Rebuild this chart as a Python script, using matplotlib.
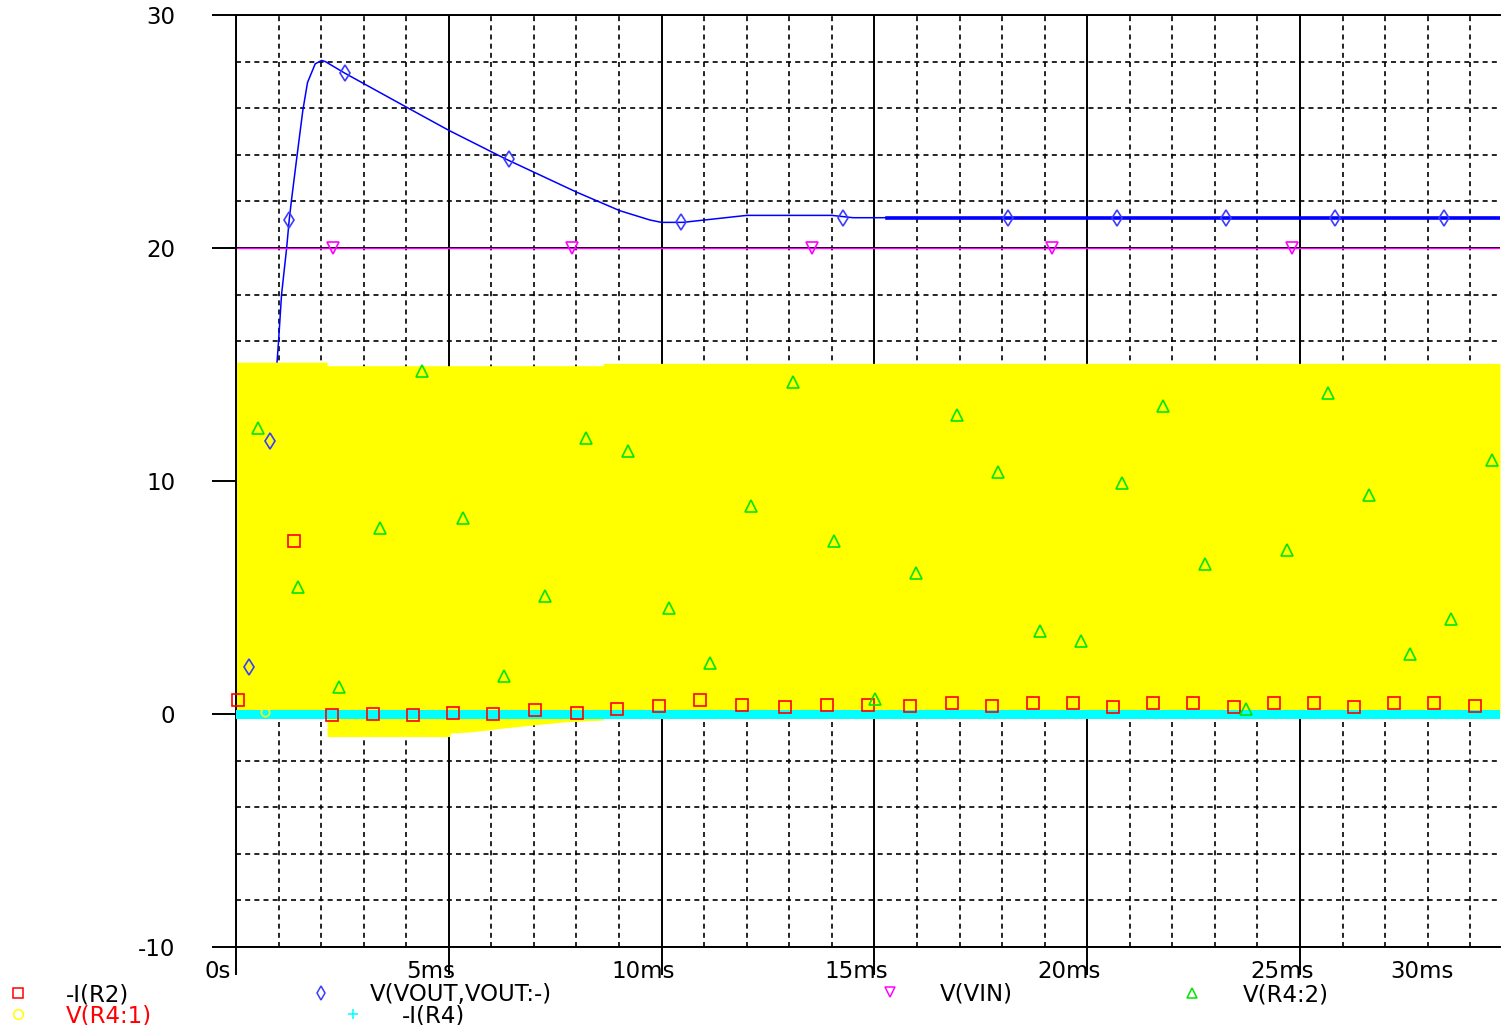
import matplotlib
matplotlib.use("Agg")
import matplotlib.pyplot as plt
import matplotlib.lines as mlines
from matplotlib.ticker import MultipleLocator
from matplotlib.transforms import ScaledTranslation

# ---- data (time in ms) ----
# V(VOUT,VOUT:-) trace
vout_t = [0.0, 0.31, 0.80, 0.96, 1.00, 1.07, 1.19, 1.25, 1.30, 1.43, 1.57, 1.68, 1.86, 2.01,
          2.10, 2.56, 4.05, 5.00, 6.36, 8.00, 9.02, 9.73, 10.0, 10.5, 11.0, 12.0, 14.0, 14.5,
          15.3, 29.7]
vout_v = [0.0, 2.0, 11.7, 15.0, 16.0, 18.0, 20.0, 21.2, 22.0, 23.9, 25.9, 27.1, 27.9, 28.05,
          28.0, 27.5, 26.0, 25.05, 23.8, 22.4, 21.6, 21.2, 21.1, 21.1, 21.2, 21.4, 21.4, 21.3,
          21.3, 21.3]
vout_mk_t = [0.31, 0.80, 1.25, 2.56, 6.41, 10.46, 14.26, 18.14, 20.70, 23.26, 25.82, 28.38]
vout_mk_v = [2.0, 11.7, 21.2, 27.5, 23.8, 21.1, 21.3, 21.3, 21.3, 21.3, 21.3, 21.3]

# V(VIN)
vin_t = [0.0, 29.7]
vin_v = [20.0, 20.0]
vin_mk_t = [2.28, 7.89, 13.53, 19.17, 24.81]
vin_mk_v = [20.0, 20.0, 20.0, 20.0, 20.0]

# V(R4:1) switching band envelope
r41_t = [0.0, 2.14, 2.14, 5.03, 5.03, 5.57, 6.20, 6.98, 7.77, 8.63, 8.63, 29.7]
r41_lo = [0.0, 0.0, -0.97, -0.97, -0.82, -0.76, -0.62, -0.47, -0.33, -0.26, 0.0, 0.0]
r41_hi = [15.1, 15.1, 14.95, 14.95, 14.95, 14.95, 14.95, 14.95, 14.95, 14.95, 15.05, 15.05]
r41_mk_t = [0.68]
r41_mk_v = [0.1]

# -I(R4) band
i4_t = [0.0, 29.7]
i4_lo = [-0.2, -0.2]
i4_hi = [0.18, 0.18]

# -I(R2) markers
ir2_t = [0.05, 1.36, 2.26, 3.22, 4.16, 5.10, 6.04, 7.03, 8.01, 8.95, 9.94, 10.90, 11.89,
         12.90, 13.89, 14.85, 15.84, 16.82, 17.76, 18.73, 19.67, 20.61, 21.55, 22.49, 23.45,
         24.39, 25.33, 26.27, 27.21, 28.15, 29.11]
ir2_v = [0.60, 7.42, -0.04, 0.0, -0.04, 0.04, 0.0, 0.17, 0.04, 0.21, 0.34, 0.60, 0.39,
         0.30, 0.39, 0.39, 0.34, 0.47, 0.34, 0.47, 0.47, 0.30, 0.47, 0.47, 0.30,
         0.47, 0.47, 0.30, 0.47, 0.47, 0.34]

# V(R4:2) markers
r42_t = [0.52, 1.46, 2.42, 3.38, 4.37, 5.33, 6.30, 7.26, 8.22, 9.21, 10.17, 11.14, 12.10,
         13.09, 14.05, 15.01, 15.98, 16.94, 17.91, 18.89, 19.85, 20.82, 21.78, 22.77, 23.73,
         24.69, 25.66, 26.62, 27.58, 28.55, 29.51]
r42_v = [12.27, 5.45, 1.16, 7.98, 14.72, 8.41, 1.63, 5.06, 11.85, 11.29, 4.55, 2.19, 8.93,
         14.25, 7.42, 0.64, 6.05, 12.83, 10.39, 3.56, 3.13, 9.91, 13.22, 6.44, 0.21,
         7.04, 13.78, 9.40, 2.58, 4.08, 10.90]

x_ticks = [0, 5, 10, 15, 20, 25]
x_labels = ["0s", "5ms", "10ms", "15ms", "20ms", "25ms"]
y_ticks = [-10, 0, 10, 20, 30]
y_labels = ["-10", "0", "10", "20", "30"]

RED = "#ff0000"
BLUE = "#0000ff"
BLUE_MK = "#3c3cff"
MAGENTA = "#ff00ff"
GREEN = "#00e600"
YELLOW = "#ffff00"
CYAN = "#00ffff"

W, H = 1502, 1025
plt.rcParams["font.family"] = ["DejaVu Sans"]
FS = 16.5

fig = plt.figure(figsize=(W / 100, H / 100), dpi=100)
ax = fig.add_axes([236 / W, 1 - 947 / H, (1500 - 236) / W, (947 - 15) / H])
ax.set_xlim(0, 29.7)
ax.set_ylim(-10, 30)

# grid
ax.set_axisbelow(True)
ax.xaxis.set_minor_locator(MultipleLocator(1))
ax.yaxis.set_minor_locator(MultipleLocator(2))
ax.grid(True, which="major", color="black", linewidth=1.4, linestyle="-")
ax.grid(True, which="minor", color="black", linewidth=1.2, linestyle=(0, (3, 2.5)))

for s in ["left", "bottom", "top"]:
    ax.spines[s].set_linewidth(1.4)
ax.spines["right"].set_visible(False)

ax.set_xticks(x_ticks, labels=x_labels)
ax.set_yticks(y_ticks, labels=y_labels)
ax.tick_params(axis="x", which="major", length=20, width=1.4, pad=-10.5, labelsize=FS)
ax.tick_params(axis="y", which="major", length=17.3, width=1.4, pad=26.5, labelsize=FS)
ax.tick_params(which="minor", length=0)
shift = ScaledTranslation(-18 / 100, 0, fig.dpi_scale_trans)
for lbl in ax.get_xticklabels():
    lbl.set_transform(lbl.get_transform() + shift)

# traces
ax.plot(vout_t, vout_v, color=BLUE, linewidth=1.1, zorder=1.5)
ax.plot(vout_t[-2:], vout_v[-2:], color=BLUE, linewidth=2.6, zorder=1.5)
ax.plot(vin_t, vin_v, color=MAGENTA, linewidth=1.0, zorder=1.5)
ax.fill_between(r41_t, r41_lo, r41_hi, color=YELLOW, linewidth=0, zorder=2)
ax.fill_between(i4_t, i4_lo, i4_hi, color=CYAN, linewidth=0, zorder=3)

mk = dict(linestyle="none", markerfacecolor="none", markeredgewidth=1.2, zorder=5, clip_on=False)
ax.plot(ir2_t, ir2_v, marker="s", markersize=8, markeredgecolor=RED, **mk)
ax.plot(vout_mk_t, vout_mk_v, marker="d", markersize=8, markeredgecolor=BLUE_MK, **mk)
ax.plot(vin_mk_t, vin_mk_v, marker="v", markersize=8, markeredgecolor=MAGENTA, **mk)
ax.plot(r42_t, r42_v, marker="^", markersize=8, markeredgecolor=GREEN, **mk)
ax.plot(r41_mk_t, r41_mk_v, marker="o", markersize=6, markeredgecolor=YELLOW, **mk)

# last x label sits left of the axis end
fig.text(1422 / W, 1 - 960 / H, "30ms", ha="center", va="top", fontsize=FS)

# legend below the plot
legend_items = [
    ("s", RED, 18, 993, "-I(R2)", 66, "black"),
    ("d", BLUE_MK, 321, 993, "V(VOUT,VOUT:-)", 370, "black"),
    ("v", MAGENTA, 890, 992, "V(VIN)", 940, "black"),
    ("^", GREEN, 1192, 993, "V(R4:2)", 1243, "black"),
    ("o", YELLOW, 18, 1014, "V(R4:1)", 66, RED),
    ("+", CYAN, 353, 1014, "-I(R4)", 402, "black"),
]
for m, c, mx, my, label, tx, tc in legend_items:
    fig.add_artist(mlines.Line2D([mx / W], [1 - my / H], marker=m, markersize=7,
                                 markerfacecolor="none", markeredgecolor=c,
                                 markeredgewidth=1.1, linestyle="none",
                                 transform=fig.transFigure))
    fig.text(tx / W, 1 - (my + 2) / H, label, ha="left", va="center", fontsize=FS, color=tc)

fig.savefig("out.png", dpi=100)
